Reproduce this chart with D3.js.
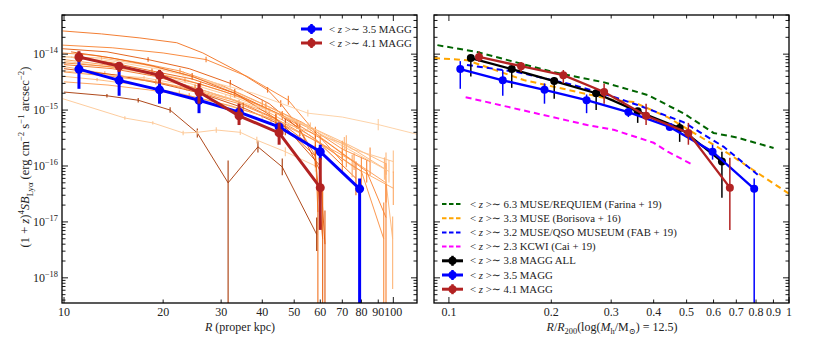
<!DOCTYPE html>
<html>
<head>
<meta charset="utf-8">
<script src="https://cdn.jsdelivr.net/npm/d3@7"></script>
<style>
body{margin:0;background:#fff}
text{font-family:"Liberation Serif","DejaVu Serif",serif;fill:#222}
</style>
</head>
<body>
<div id="container"></div>
<script>
// ---- data ----
// left panel: R in proper kpc
const binsKpc35 = [11.1,14.7,19.5,25.7,34,45,60,79];
const sb35   = [5.4e-15,3.4e-15,2.3e-15,1.5e-15,9.2e-16,5.0e-16,1.8e-16,3.9e-17];
const sb35Hi = [7.5e-15,5.2e-15,3.0e-15,1.9e-15,1.05e-15,5.5e-16,2.4e-16,6.0e-17];
const sb35Lo = [2.4e-15,1.8e-15,1.3e-15,8.8e-16,7.5e-16,4.5e-16,1.3e-16,1e-22];
const binsKpc41 = [11.1,14.7,19.5,25.7,34,45,60];
const sb41   = [8.9e-15,6.1e-15,4.2e-15,2.1e-15,7.9e-16,3.9e-16,4.1e-17];
const sb41Hi = [1.13e-14,7.2e-15,5.2e-15,3.0e-15,1.3e-15,5.9e-16,1.4e-16];
const sb41Lo = [7.2e-15,4.8e-15,3.0e-15,1.3e-15,5.4e-16,2.4e-16,7.2e-18];

// right panel: R/R200
const rr35 = [0.108,0.144,0.191,0.254,0.337,0.446,0.596,0.79];
const rr41 = [0.1226,0.163,0.217,0.286,0.38,0.506,0.67];
const rr38 = [0.116,0.153,0.204,0.271,0.359,0.477,0.635];
const sb38   = [8.5e-15,5.4e-15,3.3e-15,2.0e-15,9.5e-16,4.8e-16,1.2e-16];
const sb38Hi = [9.6e-15,6.1e-15,3.9e-15,2.3e-15,1.05e-15,6.0e-16,1.8e-16];
const sb38Lo = [4.0e-15,2.5e-15,1.6e-15,1.0e-15,5.9e-16,2.7e-16,2.7e-17];

const farinaR  = [0.0925,0.121,0.203,0.284,0.384,0.489,0.600,0.707,0.901];
const farinaSB = [1.45e-14,1.09e-14,4.77e-15,3.16e-15,1.86e-15,8.8e-16,3.9e-16,3.2e-16,2.1e-16];
const borisR  = [0.0904,0.113,0.166,0.307,0.349,0.439,0.550,0.660,1.0];
const borisSB = [8.5e-15,7.8e-15,3.44e-15,1.5e-15,1.39e-15,7.5e-16,3.3e-16,1.7e-16,3.2e-17];
const fabR  = [0.113,0.159,0.233,0.307,0.359,0.489,0.643,0.809];
const fabSB = [6.4e-15,4.77e-15,2.8e-15,1.7e-15,1.23e-15,6.1e-16,2.2e-16,7.0e-17];
const caiR  = [0.112,0.255,0.307,0.400,0.440,0.514];
const caiSB = [1.7e-15,5.4e-16,4.4e-16,2.6e-16,1.8e-16,1.1e-16];

// individual MAGG profiles (thin orange lines)
const thinR = [
 [9.9,13,17,22,26.4,34,41.5,45.5,51,58],
 [9.9,14,20,27,36,48,58,70],
 [9.9,13.5,18,24,32,42,52,60,62],
 [9.9,12.5,17,22.5,30,40,53,70,85],
 [9.9,13,17.5,23,31,41,54,72,95],
 [10.5,14,18.5,24.5,33,44,58,77],
 [10,13.2,17.6,23.3,31,41,54.5,72,95],
 [10,13.5,18,24,32,42,56,75,100],
 [10,14,19,25,33,44,58,59],
 [10,13.3,17.7,23.6,31.5,42,56,75,100],
 [10,14.5,19.5,26,35,47,60],
 [10,14,19,25,34,45,60,80,93.5],
 [10,12.6,16.8,22.4,30,40,53,71,94,99.5],
 [10,13.5,16.8,21,25.4,31.5,38.8,46,58.5],
 [9.9,15.3,18.6,23,25.4,29,34.3,38.5,47,58],
 [10,14,19,25,32,37.6,55,70,90,120],
 [10,14.5,19.5,26,34.5,46,62,83,95],
 [10.5,14,18.5,24.5,33,44,58,61],
 [10,13,17.5,23.3,31,41.5,55,73,97],
 [10,13.6,18,24,32,42.5,57,76]
];
const thinSB = [
 [2.6e-14,2.3e-14,1.95e-14,1.6e-14,1.05e-14,4.8e-15,2.3e-15,1.3e-15,5.5e-16,1.5e-16],
 [1.45e-14,1.3e-14,1.05e-14,8e-15,4e-15,1.5e-15,4e-16,1.2e-16],
 [1.25e-14,1.1e-14,8e-15,5.5e-15,3e-15,1.3e-15,4.5e-16,8e-17,4e-18],
 [1.05e-14,9.5e-15,7e-15,5e-15,2.8e-15,1.3e-15,6e-16,2e-16,1.2e-16],
 [9e-15,8.5e-15,6.5e-15,4.5e-15,2.5e-15,1.2e-15,5.5e-16,2.5e-16,1.1e-16],
 [8.8e-15,7e-15,5e-15,3.6e-15,2e-15,9e-16,3e-16,6e-17],
 [8e-15,6.5e-15,5e-15,3.5e-15,2.1e-15,1.1e-15,5e-16,1.5e-16,5e-17],
 [7.5e-15,6e-15,4.5e-15,3e-15,1.8e-15,1e-15,5e-16,2e-16,1.2e-16],
 [6.5e-15,5.5e-15,4e-15,2.5e-15,1.5e-15,7e-16,2e-16,1.5e-17],
 [6e-15,4.5e-15,3.5e-15,2.5e-15,1.6e-15,9e-16,3.5e-16,1e-16,4e-17],
 [5.5e-15,4.2e-15,3e-15,2e-15,1.1e-15,5e-16,1e-16],
 [4.8e-15,4e-15,3.2e-15,2.2e-15,1.3e-15,6.5e-16,2.5e-16,8e-17,5e-18],
 [4e-15,3.5e-15,2.8e-15,2e-15,1.3e-15,8e-16,4.5e-16,2.5e-16,9e-17,5e-18],
 [2.1e-15,1.8e-15,1.5e-15,1e-15,3.9e-16,5e-17,2.2e-16,9.6e-17,6e-18],
 [1.6e-15,7.2e-16,5.9e-16,3.9e-16,4e-16,4.4e-16,4e-16,2.9e-16,1.8e-16,1e-16],
 [9e-15,7.5e-15,5.5e-15,3.8e-15,2.6e-15,2e-15,8.8e-16,7.5e-16,5.5e-16,3.6e-16],
 [7e-15,5.8e-15,4.3e-15,2.9e-15,1.7e-15,8e-16,2.8e-16,8e-17,1.2e-17],
 [1.1e-14,8.5e-15,6.2e-15,4e-15,2e-15,7e-16,1.5e-16,5e-18],
 [5e-15,4.3e-15,3.8e-15,2.8e-15,1.7e-15,1e-15,5e-16,2e-16,8e-17],
 [3.2e-15,2.8e-15,2.3e-15,1.8e-15,1.2e-15,7e-16,3e-16,1.2e-16]
];
// error half widths in dex ([down, up] where asymmetric)
const thinErr = [
 [0,0,0,0,0,0,0.05,0.06,0.08,0.15],
 [0,0,0,0.05,0,0.08,0.1,0.2],
 [0,0,0.04,0,0.06,0,0.12,0.3,[3,0.6]],
 [0,0,0,0.05,0,0.07,0,0.15,0.25],
 [0,0.03,0,0.04,0,0.07,0,0.15,0.2],
 [0,0,0.05,0,0.08,0,0.15,0.3],
 [0,0,0,0.05,0,0.08,0,0.2,0.35],
 [0,0,0.03,0,0.05,0,0.08,0,0.2],
 [0,0,0,0.06,0,0.1,0.15,[3,0.5]],
 [0,0.04,0,0.05,0,0.08,0,0.2,0.3],
 [0,0,0,0.08,0.1,0.15,0.25],
 [0,0,0.05,0,0.07,0,0.15,0.25,[3,0.65]],
 [0,0.03,0,0.05,0,0.06,0,0.12,0.2,[0.9,0.4]],
 [0,0.03,0.04,0.05,0.08,[3,0.4],0.1,0.15,0.3],
 [0,0.03,0.03,0.04,0.04,0.05,0.05,0.06,0.08,0.1],
 [0,0,0,0,0.04,0,0.06,0,0.1,0],
 [0,0,0,0.05,0,0.08,0,0.2,[3,0.6]],
 [0,0,0,0.06,0,0.1,0.2,[3,0.9]],
 [0,0,0.03,0,0.05,0,0.08,0,0.2],
 [0,0,0,0.05,0,0.07,0,0.15]
];
const thinShade = [0.6,0.55,0.7,0.5,0.35,0.65,0.45,0.3,0.6,0.4,0.75,0.5,0.35,0.88,0.28,0.25,0.55,0.65,0.3,0.45];

const yMajor = [1e-18,1e-17,1e-16,1e-15,1e-14];
const yMajorLabels = ["−18","−17","−16","−15","−14"];
const xTicksL = [10,20,30,40,50,60,70,80,90,100];
const xTicksR = [0.1,0.2,0.3,0.4,0.5,0.6,0.7,0.8,0.9,1];
const xLabelsR = ["0.1","0.2","0.3","0.4","0.5","0.6","0.7","0.8","0.9","1"];

// ---- layout ----
let w = 830, h = 337;
let yTop = 15, yBot = 303;
let viz = d3.select("#container").append("svg").attr("width", w).attr("height", h);

let y = d3.scaleLog().domain([Math.pow(10,-18.45), Math.pow(10,-13.30)]).range([yBot, yTop]);
let xL = d3.scaleLog().domain([9.86, 118]).range([62, 417]);
let xR = d3.scaleLog().domain([0.0904, 1.0]).range([434, 789]);

function rich(t, parts, size){
  let cur = 0;
  parts.forEach(function(p){
    let kind = p[1] || "";
    let target = kind.indexOf("sup")>=0 ? -0.42*size : (kind.indexOf("sub")>=0 ? 0.28*size : 0);
    let ts = t.append("tspan").text(p[0]).attr("dy", target-cur);
    cur = target;
    if (kind.indexOf("i")===0) ts.style("font-style","italic");
    if (target!==0) ts.style("font-size", (size*0.7)+"px");
  });
}

// y minor tick values
let yMinor = [];
for (let n=-19; n<=-14; n++) for (let k=2; k<=9; k++) {
  let v = k*Math.pow(10,n);
  if (v > y.domain()[0] && v < y.domain()[1]) yMinor.push(v);
}

function drawFrame(x, xMajorVals, xTickVals, xLabs, yLabels){
  let x0 = x.range()[0], x1 = x.range()[1];
  let g = viz.append("g");
  // y ticks both sides, inward
  yMajor.forEach(function(v){
    g.append("line").attr("x1",x0).attr("x2",x0+6).attr("y1",y(v)).attr("y2",y(v));
    g.append("line").attr("x1",x1).attr("x2",x1-6).attr("y1",y(v)).attr("y2",y(v));
  });
  yMinor.forEach(function(v){
    g.append("line").attr("x1",x0).attr("x2",x0+3.5).attr("y1",y(v)).attr("y2",y(v));
    g.append("line").attr("x1",x1).attr("x2",x1-3.5).attr("y1",y(v)).attr("y2",y(v));
  });
  xTickVals.forEach(function(v){
    let len = xMajorVals.indexOf(v)>=0 ? 6 : 3.5;
    g.append("line").attr("x1",x(v)).attr("x2",x(v)).attr("y1",yBot).attr("y2",yBot-len);
    g.append("line").attr("x1",x(v)).attr("x2",x(v)).attr("y1",yTop).attr("y2",yTop+len);
  });
  g.selectAll("line").attr("stroke","#000").attr("stroke-width",0.9);
  g.append("rect").attr("x",x0).attr("y",yTop).attr("width",x1-x0).attr("height",yBot-yTop)
    .attr("fill","none").attr("stroke","#000").attr("stroke-width",1.3);
  xTickVals.forEach(function(v,i){
    g.append("text").attr("x",x(v)).attr("y",yBot+12.5).attr("text-anchor","middle")
      .style("font-size","12px").text(xLabs[i]);
  });
  if (yLabels) {
    yMajor.forEach(function(v,i){
      let t = g.append("text").attr("x",x0-4).attr("y",y(v)+4).attr("text-anchor","end").style("font-size","12px");
      rich(t, [["10"],[yMajorLabels[i],"sup"]], 12);
    });
  }
}

function clipFor(id, x){
  viz.append("clipPath").attr("id",id).append("rect")
    .attr("x",x.range()[0]).attr("y",yTop).attr("width",x.range()[1]-x.range()[0]).attr("height",yBot-yTop);
  return viz.append("g").attr("clip-path","url(#"+id+")");
}

function errSeries(g, x, xs, vals, lo, hi, color, lw, ew, r){
  let pts = xs.map(function(d,i){ return [x(d), y(vals[i])]; });
  g.append("path").attr("d", d3.line()(pts)).attr("fill","none").attr("stroke",color).attr("stroke-width",lw);
  xs.forEach(function(d,i){
    g.append("line").attr("x1",x(d)).attr("x2",x(d)).attr("y1",y(lo[i])).attr("y2",y(hi[i]))
      .attr("stroke",color).attr("stroke-width",ew);
  });
  g.selectAll(null).data(xs).enter().append("circle")
    .attr("cx",function(d){return x(d);}).attr("cy",function(d,i){return y(vals[i]);})
    .attr("r",r).attr("fill",color);
}

// ---- left panel ----
let gL = clipFor("clipL", xL);
thinR.forEach(function(rs, k){
  let col = d3.interpolateOranges(thinShade[k]);
  let pts = rs.map(function(d,i){ return [xL(d), y(thinSB[k][i])]; });
  gL.append("path").attr("d", d3.line()(pts)).attr("fill","none").attr("stroke",col)
    .attr("stroke-width",1).attr("opacity",0.9);
  rs.forEach(function(d,i){
    let e = thinErr[k][i];
    let dn = Array.isArray(e) ? e[0] : e, up = Array.isArray(e) ? e[1] : e;
    if (dn===0 && up===0) return;
    let v = thinSB[k][i];
    gL.append("line").attr("x1",xL(d)).attr("x2",xL(d))
      .attr("y1",y(v/Math.pow(10,dn))).attr("y2",y(v*Math.pow(10,up)))
      .attr("stroke",col).attr("stroke-width",1.2).attr("opacity",0.9);
  });
});
errSeries(gL, xL, binsKpc35, sb35, sb35Lo, sb35Hi, "#0000ff", 3, 3, 4.5);
errSeries(gL, xL, binsKpc41, sb41, sb41Lo, sb41Hi, "#b22222", 3, 3, 4.5);
drawFrame(xL, [10,100], xTicksL, xTicksL.map(String), true);

// ---- right panel ----
let gR = clipFor("clipR", xR);
function dashed(xs, vals, color){
  let pts = xs.map(function(d,i){ return [xR(d), y(vals[i])]; });
  gR.append("path").attr("d", d3.line()(pts)).attr("fill","none").attr("stroke",color)
    .attr("stroke-width",2).attr("stroke-dasharray","6,4");
}
dashed(farinaR, farinaSB, "#006400");
dashed(borisR, borisSB, "#ffa500");
dashed(fabR, fabSB, "#0000ff");
dashed(caiR, caiSB, "#ff00ff");
errSeries(gR, xR, rr38, sb38, sb38Lo, sb38Hi, "#000000", 2.3, 1.5, 4);
errSeries(gR, xR, rr35, sb35, sb35Lo, sb35Hi, "#0000ff", 2.3, 1.5, 4);
errSeries(gR, xR, rr41, sb41, sb41Lo, sb41Hi, "#b22222", 2.3, 1.5, 4);
drawFrame(xR, [0.1,1], xTicksR, xLabelsR, false);

// ---- axis titles ----
let tx = viz.append("text").attr("x",240).attr("y",331).attr("text-anchor","middle").style("font-size","12px");
rich(tx, [["R","i"],[" (proper kpc)"]], 12);
let tx2 = viz.append("text").attr("x",612).attr("y",331).attr("text-anchor","middle").style("font-size","12px");
rich(tx2, [["R","i"],["/"],["R","i"],["200","sub"],["(log("],["M","i"],["h","sub"],["/M"],["⊙","sub"],[") = 12.5)"]], 12);
let ty = viz.append("text").attr("transform","translate(29,157) rotate(-90)").attr("text-anchor","middle").style("font-size","12.5px");
rich(ty, [["(1 + "],["z","i"],[")"],["4","sup"],["SB","i"],["Lyα","sub"],[" (erg cm"],["−2","sup"],[" s"],["−1","sup"],[" arcsec"],["−2","sup"],[")"]], 12.5);

// ---- legends ----
function legendRow(x0, yy, color, kind, label){
  let g = viz.append("g");
  if (kind==="dash") {
    g.append("line").attr("x1",x0).attr("x2",x0+21).attr("y1",yy).attr("y2",yy)
      .attr("stroke",color).attr("stroke-width",2).attr("stroke-dasharray","4.5,2.5");
  } else {
    g.append("line").attr("x1",x0).attr("x2",x0+21).attr("y1",yy).attr("y2",yy).attr("stroke",color).attr("stroke-width",3);
    g.append("line").attr("x1",x0+10.5).attr("x2",x0+10.5).attr("y1",yy-5).attr("y2",yy+5).attr("stroke",color).attr("stroke-width",2.5);
    g.append("circle").attr("cx",x0+10.5).attr("cy",yy).attr("r",4).attr("fill",color);
  }
  let t = g.append("text").attr("x",x0+28).attr("y",yy+3.5).style("font-size","10.8px");
  rich(t, [["< "],["z","i"],[" >∼ "+label]], 10.8);
}
legendRow(301, 29, "#0000ff", "err", "3.5 MAGG");
legendRow(301, 43, "#b22222", "err", "4.1 MAGG");

const legendLabels = ["6.3 MUSE/REQUIEM (Farina + 19)","3.3 MUSE (Borisova + 16)","3.2 MUSE/QSO MUSEUM (FAB + 19)",
  "2.3 KCWI (Cai + 19)","3.8 MAGG ALL","3.5 MAGG","4.1 MAGG"];
const legendColors = ["#006400","#ffa500","#0000ff","#ff00ff","#000000","#0000ff","#b22222"];
legendLabels.forEach(function(lab,i){
  legendRow(442, 204 + i*14.2, legendColors[i], i<4 ? "dash" : "err", lab);
});
</script>
</body>
</html>
